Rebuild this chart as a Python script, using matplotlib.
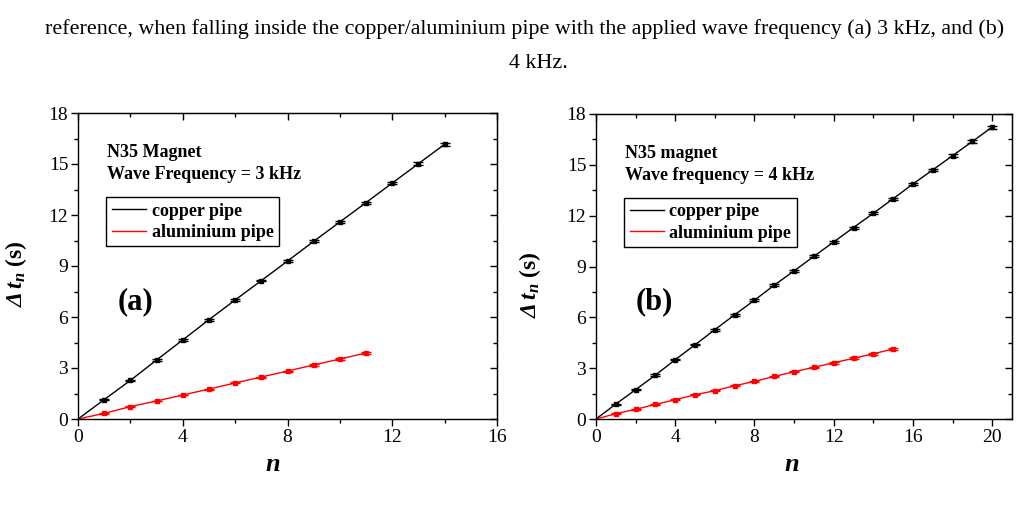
import numpy as np
import matplotlib.pyplot as plt
from matplotlib.ticker import MultipleLocator

plt.rcParams['font.family'] = ['Liberation Serif', 'DejaVu Serif']
plt.rcParams['mathtext.fontset'] = 'custom'
plt.rcParams['mathtext.rm'] = 'Liberation Serif:bold:italic'
plt.rcParams['mathtext.it'] = 'Liberation Serif:italic:bold'
plt.rcParams['mathtext.bf'] = 'Liberation Serif:bold'

# panel (a): 3 kHz
n_cu_a = [0, 1, 2, 3, 4, 5, 6, 7, 8, 9, 10, 11, 12, 13, 14]
t_cu_a = [0, 1.14, 2.27, 3.47, 4.65, 5.84, 7.00, 8.14, 9.29, 10.45, 11.59, 12.73, 13.88, 15.02, 16.16]
e_cu_a = [0, 0.04, 0.04, 0.05, 0.05, 0.05, 0.05, 0.05, 0.05, 0.06, 0.07, 0.06, 0.06, 0.07, 0.09]
n_al_a = [0, 1, 2, 3, 4, 5, 6, 7, 8, 9, 10, 11]
t_al_a = [0, 0.33, 0.73, 1.06, 1.41, 1.76, 2.12, 2.47, 2.82, 3.18, 3.53, 3.88]
e_al_a = [0, 0.02, 0.02, 0.02, 0.02, 0.03, 0.03, 0.03, 0.03, 0.04, 0.04, 0.05]

# panel (b): 4 kHz
n_cu_b = list(range(0, 21))
t_cu_b = [0, 0.88, 1.73, 2.59, 3.50, 4.38, 5.27, 6.15, 7.01, 7.90, 8.74,
          9.60, 10.45, 11.30, 12.14, 13.00, 13.87, 14.70, 15.54, 16.38, 17.23]
e_cu_b = [0, 0.03, 0.04, 0.04, 0.04, 0.04, 0.05, 0.05, 0.05, 0.05, 0.05,
          0.05, 0.06, 0.06, 0.06, 0.06, 0.06, 0.06, 0.08, 0.08, 0.09]
n_al_b = list(range(0, 16))
t_al_b = [0, 0.31, 0.57, 0.86, 1.14, 1.43, 1.67, 1.96, 2.22, 2.51, 2.79,
          3.05, 3.32, 3.58, 3.85, 4.13]
e_al_b = [0, 0.03, 0.03, 0.03, 0.03, 0.04, 0.04, 0.04, 0.04, 0.04, 0.04,
          0.04, 0.05, 0.05, 0.05, 0.06]

caption1 = ('reference, when falling inside the copper/aluminium pipe with the '
            'applied wave frequency (a) 3 kHz, and (b)')
caption2 = '4 kHz.'

fig = plt.figure(figsize=(10.2, 5.12), dpi=100)
W, H = 1020, 512


def make_axes(left, right, top, bottom):
    return fig.add_axes([left / W, 1 - bottom / H, (right - left) / W, (bottom - top) / H])


def draw_panel(ax, ncu, tcu, ecu, nal, tal, eal, xmax, title1, title2, tag,
               ylab_xy, xlab_x):
    ax.plot(ncu, tcu, color='black', lw=1.0, label='copper pipe', zorder=2)
    ax.errorbar(ncu[1:], tcu[1:], yerr=ecu[1:], fmt='s', ms=3.5, color='black',
                ecolor='black', elinewidth=1, capsize=3.5, capthick=1, zorder=3)
    ax.plot(nal, tal, color='#ff0000', lw=1.0, label='aluminium pipe', zorder=2)
    ax.errorbar(nal[1:], tal[1:], yerr=eal[1:], fmt='s', ms=3.5, color='#ff0000',
                ecolor='#ff0000', elinewidth=1, capsize=3.5, capthick=1, zorder=3)
    ax.set_xlim(0, xmax)
    ax.set_ylim(0, 18)
    ax.xaxis.set_major_locator(MultipleLocator(4))
    ax.xaxis.set_minor_locator(MultipleLocator(2))
    ax.yaxis.set_major_locator(MultipleLocator(3))
    ax.yaxis.set_minor_locator(MultipleLocator(1.5))
    ax.tick_params(which='major', direction='out', length=5, width=1, labelsize=14, pad=2)
    ax.tick_params(which='minor', direction='out', length=3, width=1)
    for s in ax.spines.values():
        s.set_linewidth(1.0)
    # mirrored inward ticks on top / right
    top = ax.secondary_xaxis('top')
    top.xaxis.set_major_locator(MultipleLocator(4))
    top.xaxis.set_minor_locator(MultipleLocator(2))
    top.tick_params(which='major', direction='in', length=5, width=1, labeltop=False)
    top.tick_params(which='minor', direction='in', length=3, width=1)
    right = ax.secondary_yaxis('right')
    right.yaxis.set_major_locator(MultipleLocator(3))
    right.yaxis.set_minor_locator(MultipleLocator(1.5))
    right.tick_params(which='major', direction='in', length=5, width=1, labelright=False)
    right.tick_params(which='minor', direction='in', length=3, width=1)

    ax.set_xlabel(r'$n$', fontsize=19)
    ax.xaxis.set_label_coords(xlab_x, -0.115)
    ax.set_ylabel(r'$\Delta\,t_n$ (s)', fontsize=17, fontweight='bold')
    ax.yaxis.set_label_coords(*ylab_xy)
    ax.text(0.069, 0.855, title1, transform=ax.transAxes, fontsize=13, fontweight='bold')
    ax.text(0.069, 0.785, title2, transform=ax.transAxes, fontsize=13, fontweight='bold')
    ax.text(0.095, 0.36, tag, transform=ax.transAxes, fontsize=22, fontweight='bold')
    leg = ax.legend(loc='upper left', bbox_to_anchor=(0.068, 0.725), frameon=True,
                    fancybox=False, edgecolor='black', framealpha=1,
                    prop={'weight': 'bold', 'size': 13}, handlelength=1.9,
                    handletextpad=0.3, borderpad=0.3, labelspacing=0.25,
                    borderaxespad=0)
    leg.get_frame().set_linewidth(1.0)


ax1 = make_axes(78, 497, 113, 419)
draw_panel(ax1, n_cu_a, t_cu_a, e_cu_a, n_al_a, t_al_a, e_al_a, 16,
           'N35 Magnet', 'Wave Frequency = 3 kHz', '(a)', (-0.117, 0.474), 0.465)

ax2 = make_axes(596, 1012, 114, 419)
draw_panel(ax2, n_cu_b, t_cu_b, e_cu_b, n_al_b, t_al_b, e_al_b, 21,
           'N35 magnet', 'Wave frequency = 4 kHz', '(b)', (-0.128, 0.441), 0.471)

fig.text(525 / W, 1 - 29 / H, caption1, ha='center', va='center', fontsize=15.8)
fig.text(538 / W, 1 - 64 / H, caption2, ha='center', va='center', fontsize=15.8)

fig.savefig('out.png', dpi=100)
